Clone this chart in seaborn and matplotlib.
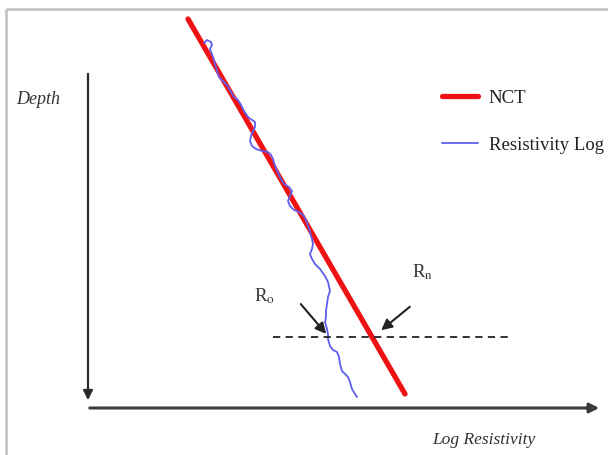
import numpy as np
import pandas as pd
import matplotlib.pyplot as plt
from matplotlib.patches import Rectangle
import seaborn as sns

# schematic in drawing units (x = log resistivity, y = depth, depth grows downward)
nct_x = [188, 405]
nct_depth = [20, 395]

log_x = [204, 207, 211, 212, 210, 213, 215, 217, 219, 223, 227, 231, 234, 238,
         241, 244, 248, 252, 255, 255, 253, 251, 250, 252, 256, 262, 268, 271,
         273, 275, 278, 281, 284, 289, 292, 290, 288, 290, 294, 299, 303, 306,
         308, 310, 312, 313, 312, 310, 312, 315, 320, 325, 328, 330, 328, 327,
         326, 326, 325, 327, 328, 328, 330, 333, 337, 339, 340, 342, 345, 348,
         350, 352, 355, 357]
log_depth = [44, 41, 43, 46, 50, 58, 65, 72, 78, 82, 86, 93, 98, 101,
             106, 112, 118, 121, 123, 128, 132, 137, 142, 147, 150, 152, 153, 156,
             160, 167, 174, 180, 185, 188, 192, 197, 202, 207, 211, 213, 216, 221,
             227, 233, 240, 245, 250, 255, 260, 265, 270, 277, 283, 292, 298, 305,
             312, 318, 323, 330, 335, 340, 347, 351, 353, 358, 365, 372, 375, 378,
             383, 390, 395, 398]

ref_x = [273, 508]
ref_depth = [338, 338]

sns.set_style("white")
plt.rcParams['font.family'] = ['Liberation Serif', 'DejaVu Serif']
plt.rcParams['mathtext.fontset'] = 'stix'

fig = plt.figure(figsize=(6.08, 4.56), dpi=100)
ax = fig.add_axes([0, 0, 1, 1])
ax.set_xlim(0, 608)
ax.set_ylim(456, 0)
ax.axis('off')

# frame of the original figure box
ax.add_patch(Rectangle((6, 10), 640, 480, fill=False, ec='#c4c4c4', lw=2))

# axes arrows
ax.annotate('', xy=(88, 404), xytext=(88, 72),
            arrowprops=dict(arrowstyle='-|>', color='#2a2a2a', lw=1.6, mutation_scale=14))
ax.annotate('', xy=(602, 409), xytext=(87, 409),
            arrowprops=dict(arrowstyle='-|>', color='#3a3a3a', lw=2.2, mutation_scale=14))

nct = pd.DataFrame({'x': nct_x, 'depth': nct_depth})
res = pd.DataFrame({'x': log_x, 'depth': log_depth})
ref = pd.DataFrame({'x': ref_x, 'depth': ref_depth})

# estimator=None keeps every point as drawn (the log doubles back on itself)
sns.lineplot(data=res, x='x', y='depth', sort=False, estimator=None, color='#5e5eee',
             lw=1.3, label='Resistivity Log', ax=ax, zorder=3,
             solid_joinstyle='round', solid_capstyle='round')
sns.lineplot(data=nct, x='x', y='depth', sort=False, estimator=None, color='#f01212',
             lw=3.8, label='NCT', ax=ax, zorder=2)
sns.lineplot(data=ref, x='x', y='depth', sort=False, estimator=None, color='#222222',
             lw=1.3, ls=(0, (4, 3)), ax=ax, zorder=4)
ax.set_xlim(0, 608)
ax.set_ylim(456, 0)

# pointers to Ro and Rn
ax.annotate('', xy=(328, 337), xytext=(299, 303),
            arrowprops=dict(arrowstyle='-|>', color='#222222', lw=1.5, mutation_scale=16), zorder=5)
ax.annotate('', xy=(379, 333), xytext=(412, 306),
            arrowprops=dict(arrowstyle='-|>', color='#222222', lw=1.5, mutation_scale=16), zorder=5)
ax.text(254, 296, r'R$_{\mathrm{o}}$', fontsize=13.5, color='#333333', va='center')
ax.text(412, 272, r'R$_{\mathrm{n}}$', fontsize=13.5, color='#333333', va='center')

ax.text(16, 100, 'Depth', fontsize=13, style='italic', color='#333333', va='center')
ax.text(432, 440, 'Log Resistivity', fontsize=12.5, style='italic', color='#333333', va='center')

handles, labels = ax.get_legend_handles_labels()
order = [labels.index('NCT'), labels.index('Resistivity Log')]
ax.legend([handles[i] for i in order], [labels[i] for i in order],
          loc='upper left', bbox_to_anchor=(442 / 608, 1 - 90 / 456),
          frameon=False, fontsize=13.5, handlelength=1.9, handletextpad=0.6,
          labelspacing=1.6, borderpad=0, borderaxespad=0, labelcolor='#222222')

fig.savefig('out.png', dpi=100)
